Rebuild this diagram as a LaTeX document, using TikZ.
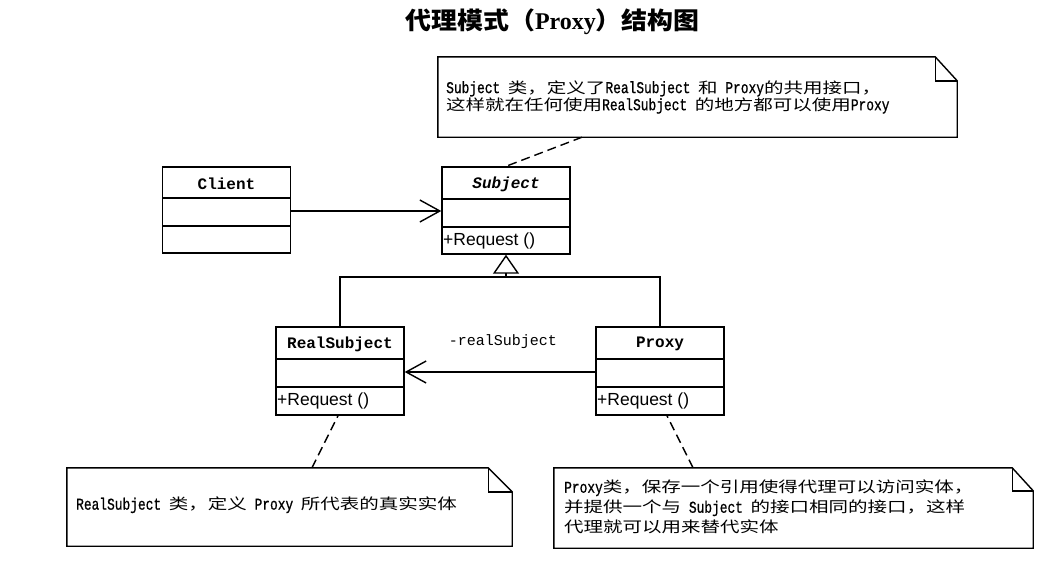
\documentclass[tikz,border=0pt]{standalone}
\usepackage{fontspec}
\setmainfont{Liberation Mono}
\newfontfamily\cjk{Noto Sans CJK SC}[FakeStretch=1.3]
\newfontfamily\cjkt{Noto Sans CJK SC}[FakeStretch=1.08]
\newfontfamily\lat{Liberation Mono}[FakeStretch=0.78, Scale=1.1, FakeBold=0.8]
\newfontfamily\sanf{Liberation Sans}
\newfontfamily\serf{Liberation Serif}
\usetikzlibrary{arrows.meta}
\newcommand\zh[1]{{\cjk #1}}
\newcommand\la[1]{{\lat #1}}
\tikzset{
  lw/.style={line width=1.4pt},
  classbox/.style={draw, lw, rectangle, minimum width=128pt, inner sep=0pt},
  cname/.style={font=\fontsize{16}{18}\selectfont\bfseries},
  oper/.style={anchor=west, inner sep=0pt, font=\sanf\fontsize{17.5}{18}\selectfont},
  notebox/.style={rectangle, inner sep=0pt},
  notetext/.style={anchor=west, align=left, inner sep=0pt},
  assoc/.style={lw, -{Straight Barb[length=20pt,width=22pt,line width=1.4pt]}},
  inherit/.style={lw, -{Triangle[open,length=19pt,width=26pt,line width=1.4pt]}},
  anchorline/.style={lw, dash pattern=on 9pt off 5pt},
}
\begin{document}
\begin{tikzpicture}[x=1pt,y=-1pt]
\useasboundingbox (0,0) rectangle (1063,560);
% title
\node (title) at (552.5,22) {\fontsize{24}{26}\selectfont{\cjkt\bfseries 代理模式（}{\serf\bfseries Proxy}{\cjkt\bfseries ）结构图}};
% class boxes
\node[classbox, minimum height=86pt] (client) at (226.5,210) {};
\node[classbox, minimum height=87pt] (subject) at (506,210.5) {};
\node[classbox, minimum height=88pt] (rs) at (340,371) {};
\node[classbox, minimum height=88pt] (proxy) at (660,371) {};
% dividers
\draw[lw] (163,198) -- (290,198) (163,226) -- (290,226);
\draw[lw] (442,199) -- (570,199) (442,227) -- (570,227);
\draw[lw] (276,359) -- (404,359) (276,387) -- (404,387);
\draw[lw] (596,359) -- (724,359) (596,387) -- (724,387);
% class texts
\node[cname] (clientname) at (226.5,184) {Client};
\node[cname, font=\fontsize{16}{18}\selectfont\bfseries\itshape] (subjectname) at (506,184) {Subject};
\node[cname] (rsname) at (340,344) {RealSubject};
\node[cname] (proxyname) at (660,344) {Proxy};
\node[oper] (subjop) at (443,241) {+Request ()};
\node[oper] (rsop) at (277,401) {+Request ()};
\node[oper] (proxyop) at (597,401) {+Request ()};
% associations
\draw[assoc] (client.east |- 0,211) -- (subject.west |- 0,211);
\draw[assoc] (proxy.west |- 0,372) -- (rs.east |- 0,372);
\node (rslabel) at (503,342) {\fontsize{15}{17}\selectfont -realSubject};
% inheritance
\coordinate (hub) at (506,277);
\draw[inherit] (rs.north) |- (hub) -- (subject.south);
\draw[lw] (proxy.north) |- (hub);
% notes
\node[notebox, minimum width=519pt, minimum height=80pt] (n1) at (697.5,97) {};
\node[notebox, minimum width=445pt, minimum height=78pt] (n2) at (289.5,507) {};
\node[notebox, minimum width=479pt, minimum height=80pt] (n3) at (793.5,508) {};
\foreach \n/\fw/\fh in {n1/22/24, n2/24/24, n3/21/23}{
  \draw[lw] (\n.north west) -- ([xshift=-\fw pt]\n.north east) -- ([yshift=-\fh pt]\n.north east) -- (\n.south east) -- (\n.south west) -- cycle;
  \draw[lw] ([xshift=-\fw pt]\n.north east) |- ([yshift=-\fh pt]\n.north east);
}
\node[notetext, font=\fontsize{15}{16}\selectfont] (t1) at (446,97) {\la{Subject }\zh{类，定义了}\la{RealSubject }\zh{和}\la{ Proxy}\zh{的共用接口，}\\\zh{这样就在任何使用}\la{RealSubject }\zh{的地方都可以使用}\la{Proxy}};
\node[notetext, font=\fontsize{15}{20}\selectfont] (t2) at (76,505) {\la{RealSubject }\zh{类，定义}\la{ Proxy }\zh{所代表的真实实体}};
\node[notetext, font=\fontsize{15}{20}\selectfont] (t3) at (564,507) {\la{Proxy}\zh{类，保存一个引用使得代理可以访问实体，}\\\zh{并提供一个与}\la{ Subject }\zh{的接口相同的接口，这样}\\\zh{代理就可以用来替代实体}};
% note anchors
\draw[anchorline] (n1.south -| 582,0) -- (subject.north);
\draw[anchorline] (n2.north -| 312,0) -- (rs.south -| 338,0);
\draw[anchorline] (n3.north -| 693,0) -- (proxy.south -| 667,0);
\end{tikzpicture}
\end{document}
